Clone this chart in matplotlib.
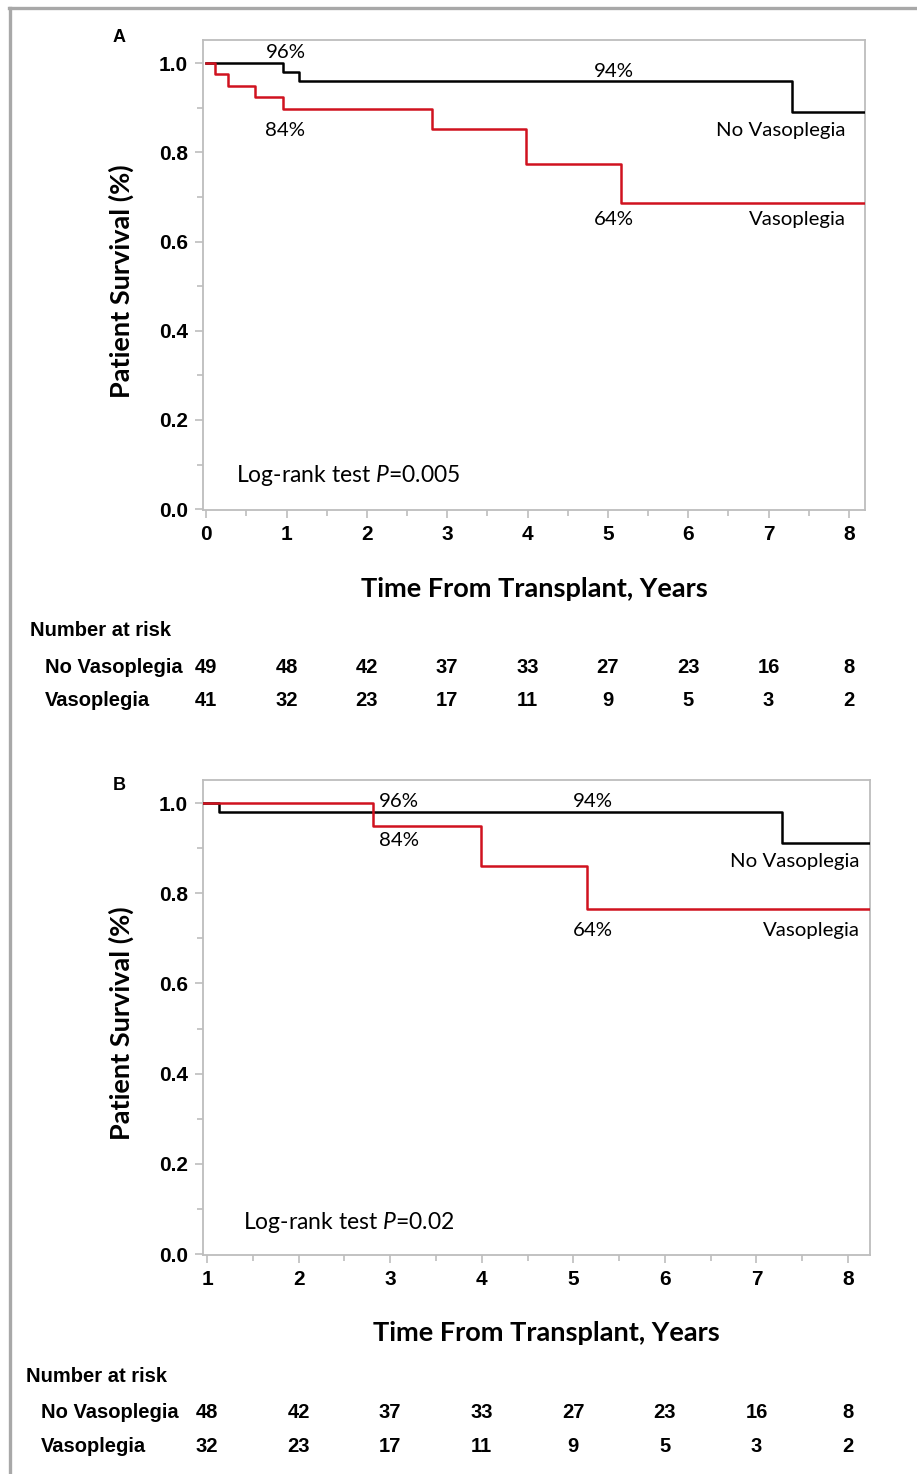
import matplotlib
matplotlib.use("Agg")
import matplotlib.pyplot as plt
from matplotlib.ticker import MultipleLocator, FormatStrFormatter
from matplotlib.lines import Line2D
import matplotlib.transforms as mtrans

W, H = 917, 1474

plt.rcParams['font.family'] = ['Lato', 'DejaVu Sans']
plt.rcParams['mathtext.fontset'] = 'custom'
plt.rcParams['mathtext.rm'] = 'Lato'
plt.rcParams['mathtext.it'] = 'Lato:italic'

NARROW = ['Liberation Sans Narrow', 'Liberation Sans', 'DejaVu Sans']
RED = '#d0121f'
GRAY = '#bdbdbd'
ANN = 14.7     # curve annotations
LAB = 19.5     # axis labels

# panel A: survival from time 0
a_no_t = [0, 0.96, 1.15, 7.29, 8.2]
a_no_s = [1.0, 0.980, 0.960, 0.890, 0.890]
a_va_t = [0, 0.11, 0.27, 0.61, 0.95, 2.81, 3.98, 5.16, 8.2]
a_va_s = [1.0, 0.975, 0.948, 0.924, 0.897, 0.852, 0.773, 0.686, 0.686]
a_years = [0, 1, 2, 3, 4, 5, 6, 7, 8]
a_risk_no = [49, 48, 42, 37, 33, 27, 23, 16, 8]
a_risk_va = [41, 32, 23, 17, 11, 9, 5, 3, 2]

# panel B: conditional on 1-year survival
b_no_t = [0.96, 1.13, 7.28, 8.24]
b_no_s = [1.0, 0.980, 0.911, 0.911]
b_va_t = [0.96, 2.81, 3.99, 5.15, 8.24]
b_va_s = [1.0, 0.949, 0.860, 0.765, 0.765]
b_years = [1, 2, 3, 4, 5, 6, 7, 8]
b_risk_no = [48, 42, 37, 33, 27, 23, 16, 8]
b_risk_va = [32, 23, 17, 11, 9, 5, 3, 2]

fig = plt.figure(figsize=(W / 100, H / 100), dpi=100)


def fx(px):
    return px / W


def fy(py):
    return 1 - py / H


def make_axes(left, top, right, bottom, xlim, ylim, years):
    ax = fig.add_axes([fx(left), fy(bottom), fx(right - left), fy(top) - fy(bottom)])
    ax.set_xlim(*xlim)
    ax.set_ylim(*ylim)
    for sp in ax.spines.values():
        sp.set_color(GRAY)
        sp.set_linewidth(1.3)
    ax.set_xticks(years)
    ax.xaxis.set_minor_locator(MultipleLocator(0.5))
    ax.yaxis.set_major_locator(MultipleLocator(0.2))
    ax.yaxis.set_minor_locator(MultipleLocator(0.1))
    ax.yaxis.set_major_formatter(FormatStrFormatter('%.1f'))
    ax.tick_params(which='both', direction='out', color=GRAY, width=1.2)
    ax.tick_params(which='major', length=6)
    ax.tick_params(which='minor', length=4)
    ax.tick_params(axis='x', pad=5)
    ax.tick_params(axis='y', pad=5)
    for lab in ax.get_xticklabels() + ax.get_yticklabels():
        lab.set_family(NARROW)
        lab.set_weight('bold')
        lab.set_fontsize(15)
    return ax


def risk_table(ax, years, risk_no, risk_va, x0, y_title, y_no, y_va):
    tr = mtrans.blended_transform_factory(ax.transData, fig.transFigure)
    fig.text(fx(x0 - 15), fy(y_title), 'Number at risk', family=NARROW, weight='bold',
             fontsize=14.5, va='center', ha='left')
    fig.text(fx(x0), fy(y_no), 'No Vasoplegia', family=NARROW, weight='bold',
             fontsize=14.5, va='center', ha='left')
    fig.text(fx(x0), fy(y_va), 'Vasoplegia', family=NARROW, weight='bold',
             fontsize=14.5, va='center', ha='left')
    for yr, n1, n2 in zip(years, risk_no, risk_va):
        ax.text(yr, fy(y_no), str(n1), transform=tr, family=NARROW, weight='bold',
                fontsize=14.5, ha='center', va='center')
        ax.text(yr, fy(y_va), str(n2), transform=tr, family=NARROW, weight='bold',
                fontsize=14.5, ha='center', va='center')


# ---- Panel A ----
axA = make_axes(203, 40, 865, 510, (-0.04, 8.2), (-0.002, 1.052), a_years)
axA.step(a_no_t, a_no_s, where='post', color='black', lw=1.8, zorder=3)
axA.step(a_va_t, a_va_s, where='post', color=RED, lw=1.8, zorder=4)
axA.text(0.99, 1.025, '96%', ha='center', va='center', fontsize=ANN)
axA.text(0.98, 0.848, '84%', ha='center', va='center', fontsize=ANN)
axA.text(5.07, 0.982, '94%', ha='center', va='center', fontsize=ANN)
axA.text(5.07, 0.650, '64%', ha='center', va='center', fontsize=ANN)
axA.text(7.96, 0.850, 'No Vasoplegia', ha='right', va='center', fontsize=ANN)
axA.text(7.96, 0.650, 'Vasoplegia', ha='right', va='center', fontsize=ANN)
axA.text(0.37, 0.076, r'Log-rank test $\mathit{P}$=0.005', ha='left', va='center', fontsize=16.5)
fig.text(fx(119), fy(37), 'A', weight='bold', fontsize=13, ha='center', va='center',
         family=['Liberation Sans', 'DejaVu Sans'])
fig.text(fx(121), fy(281), 'Patient Survival (%)', rotation=90, weight='bold',
         fontsize=LAB, ha='center', va='center')
fig.text(fx(534), fy(589), 'Time From Transplant, Years', weight='bold',
         fontsize=LAB, ha='center', va='center')
risk_table(axA, a_years, a_risk_no, a_risk_va, 45, 631, 668, 700)

# ---- Panel B ----
axB = make_axes(203, 780, 870, 1255, (0.956, 8.24), (-0.002, 1.051), b_years)
axB.step(b_no_t, b_no_s, where='post', color='black', lw=1.8, zorder=3)
axB.step(b_va_t, b_va_s, where='post', color=RED, lw=1.8, zorder=4)
axB.text(3.10, 1.004, '96%', ha='center', va='center', fontsize=ANN)
axB.text(3.10, 0.916, '84%', ha='center', va='center', fontsize=ANN)
axB.text(5.21, 1.004, '94%', ha='center', va='center', fontsize=ANN)
axB.text(5.21, 0.718, '64%', ha='center', va='center', fontsize=ANN)
axB.text(8.13, 0.871, 'No Vasoplegia', ha='right', va='center', fontsize=ANN)
axB.text(8.13, 0.718, 'Vasoplegia', ha='right', va='center', fontsize=ANN)
axB.text(1.39, 0.071, r'Log-rank test $\mathit{P}$=0.02', ha='left', va='center', fontsize=16.5)
fig.text(fx(119), fy(785), 'B', weight='bold', fontsize=13, ha='center', va='center',
         family=['Liberation Sans', 'DejaVu Sans'])
fig.text(fx(121), fy(1023), 'Patient Survival (%)', rotation=90, weight='bold',
         fontsize=LAB, ha='center', va='center')
fig.text(fx(546), fy(1333), 'Time From Transplant, Years', weight='bold',
         fontsize=LAB, ha='center', va='center')
risk_table(axB, b_years, b_risk_no, b_risk_va, 41, 1376, 1413, 1446)

# grey frame on the left and top
fig.add_artist(Line2D([fx(10), fx(10)], [fy(8), 0], transform=fig.transFigure,
                      color='#a8a8a8', lw=2.4))
fig.add_artist(Line2D([fx(9), 1], [fy(8), fy(8)], transform=fig.transFigure,
                      color='#a8a8a8', lw=2.4))

fig.savefig('out.png', dpi=100)
